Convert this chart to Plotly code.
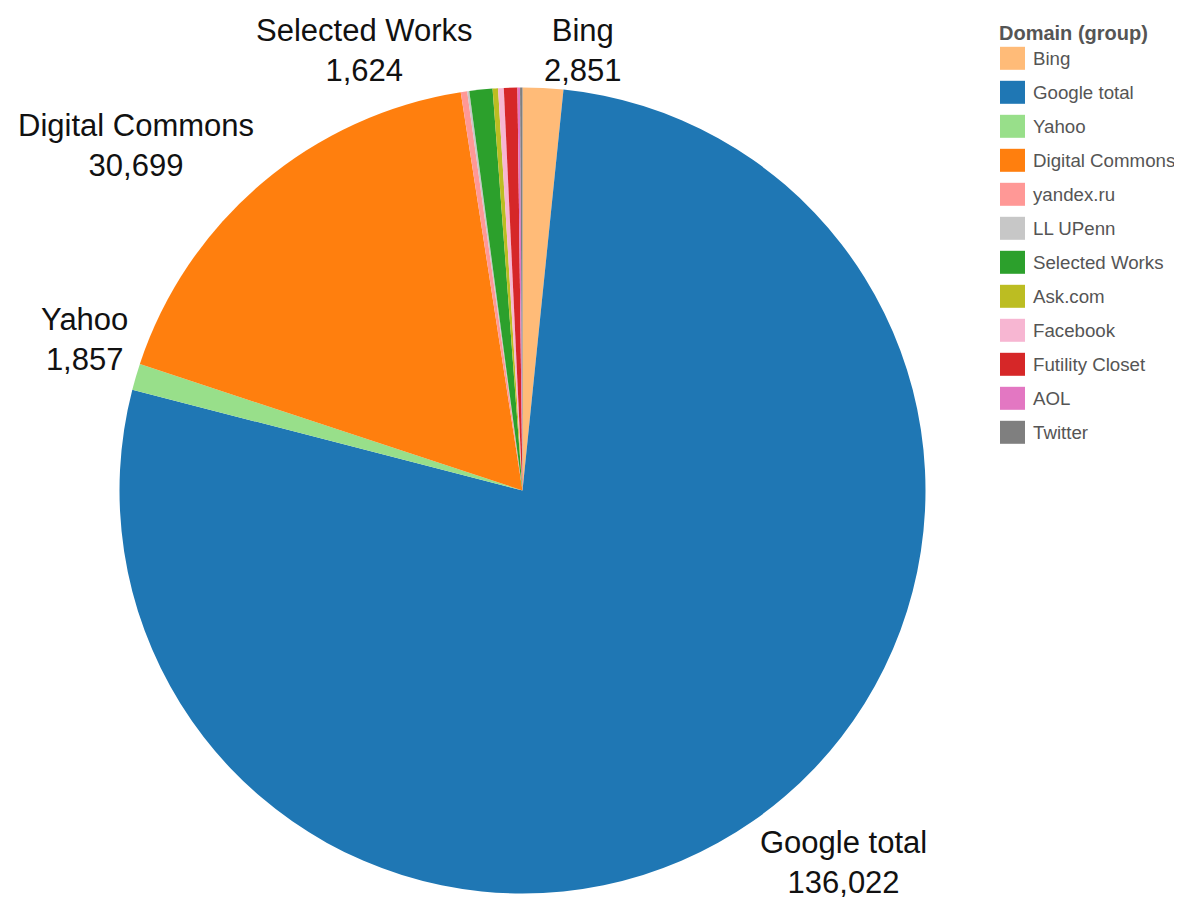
import plotly.graph_objects as go

# ---- data ----
labels = ["Bing", "Google total", "Yahoo", "Digital Commons", "yandex.ru", "LL UPenn",
          "Selected Works", "Ask.com", "Facebook", "Futility Closet", "AOL", "Twitter"]
values = [2851, 136022, 1857, 30699, 450, 150, 1624, 380, 400, 950, 180, 170]
colors = ["#ffbb78", "#1f77b4", "#98df8a", "#ff7f0e", "#ff9896", "#c7c7c7",
          "#2ca02c", "#bcbd22", "#f7b6d2", "#d62728", "#e377c2", "#7f7f7f"]
labeled = ["Bing", "Google total", "Yahoo", "Digital Commons", "Selected Works"]
legend_title = "Domain (group)"

# ---- layout (pixels, in screen coordinates) ----
OFF = 8                      # page body margin
W, H = 1182 - OFF, 900 - OFF
cx, cy, R = 522.5, 490.5, 403
label_pos = {  # label block centers in screen px
    "Bing": (582.5, 50),
    "Google total": (843.5, 862),
    "Yahoo": (84, 340),
    "Digital Commons": (135.5, 145),
    "Selected Works": (364.5, 50),
}

def px(x):
    return (x - OFF) / W

def py(y):
    return 1 - (y - OFF) / H

fig = go.Figure(go.Pie(
    labels=labels, values=values,
    marker=dict(colors=colors, line=dict(width=0)),
    sort=False, direction="clockwise", rotation=0,
    textinfo="none", showlegend=False,
    domain=dict(x=[px(cx - R), px(cx + R)],
                y=[max(0.0, py(cy + R)), py(cy - R)]),
))

annotations = []
for name in labeled:
    v = values[labels.index(name)]
    x, y = label_pos[name]
    annotations.append(dict(
        x=px(x), y=py(y), xref="paper", yref="paper",
        text=f"{name}<br>{v:,}", showarrow=False,
        xanchor="center", yanchor="middle", align="center",
        font=dict(family="Arial, Liberation Sans, sans-serif", size=31, color="#111111"),
    ))

# manual legend
annotations.append(dict(
    x=px(997), y=py(33), xref="paper", yref="paper",
    text=f"<b>{legend_title}</b>", showarrow=False,
    xanchor="left", yanchor="middle",
    font=dict(family="Arial, Liberation Sans, sans-serif", size=20, color="#555555"),
))
shapes = []
for i, (name, col) in enumerate(zip(labels, colors)):
    yc = 58.3 + 34.0 * i
    shapes.append(dict(
        type="rect", xref="paper", yref="paper",
        x0=px(1000), x1=px(1025), y0=py(yc - 11.5), y1=py(yc + 11.5),
        fillcolor=col, line=dict(width=0),
    ))
    annotations.append(dict(
        x=px(1031), y=py(yc), xref="paper", yref="paper",
        text=name, showarrow=False, xanchor="left", yanchor="middle",
        font=dict(family="Arial, Liberation Sans, sans-serif", size=18.7, color="#555555"),
    ))

fig.update_layout(
    width=W, height=H, autosize=False,
    margin=dict(l=0, r=0, t=0, b=0),
    paper_bgcolor="white", plot_bgcolor="white",
    annotations=annotations, shapes=shapes,
)

fig.write_html("out.html")
